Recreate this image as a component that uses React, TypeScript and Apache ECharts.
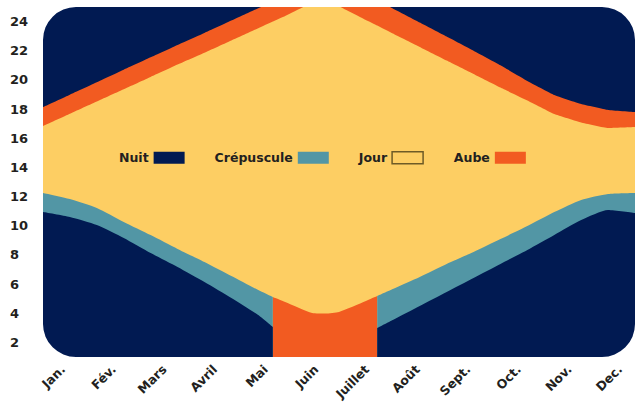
import { useEffect, useRef } from 'react';
import * as echarts from 'echarts';

// Month labels
const months = ['Jan.', 'Fév.', 'Mars', 'Avril', 'Mai', 'Juin', 'Juillet', 'Août', 'Sept.', 'Oct.', 'Nov.', 'Dec.'];

// Positions along the year (in months, Jan. = 0)
const positions = [0, 0.5, 1, 1.5, 2, 2.5, 3, 3.5, 4, 4.27, 4.5, 5, 5.25, 5.5, 6, 6.21, 6.5, 7, 7.5, 8, 8.5, 9, 9.5, 10, 10.5, 11];

// Upper edge of the lower night band
const nuitFin = [10.94, 10.6, 10.05, 9.16, 8.13, 7.17, 6.14, 5.05, 3.88, 3.06, null, null, null, null, null, 2.99, 3.54, 4.5, 5.46, 6.42, 7.38, 8.34, 9.37, 10.39, 11.08, 10.87];
// Upper edge of the twilight band
const crepusculeFin = [12.25, 11.83, 11.22, 10.26, 9.36, 8.41, 7.51, 6.55, 5.59, 5.11, null, null, null, null, null, 5.18, 5.66, 6.49, 7.38, 8.2, 9.09, 9.98, 10.94, 11.77, 12.18, 12.25];
// Upper edge of the lower dawn band (summer)
const aubeMatinFin = [null, null, null, null, null, null, null, null, null, 5.11, 4.77, 4.02, 3.98, 4.09, 4.84, 5.18, null, null, null, null, null, null, null, null, null, null];
// Upper edge of the day band
const jourFin = [16.84, 17.68, 18.52, 19.36, 20.2, 21.05, 21.86, 22.7, 23.54, 24.0, 24.38, 25.3, 25.6, 25.05, 24.11, 23.73, 23.18, 22.26, 21.33, 20.41, 19.48, 18.59, 17.66, 17.08, 16.7, 16.77];
// Upper edge of the upper dawn band
const aubeFin = [18.14, 18.99, 19.84, 20.7, 21.55, 22.4, 23.22, 24.07, 24.92, 25.35, 25.78, 26.6, 27.0, 26.82, 25.86, 25.5, 24.89, 23.93, 22.97, 22.0, 21.0, 19.93, 18.97, 18.35, 17.94, 17.8];

const NAVY = '#011A52';
const TEAL = '#5296A5';
const YELLOW = '#FDCE63';
const ORANGE = '#F25B21';
const TEXT = '#231F20';

const toPairs = (vals: (number | null)[]) => positions.map((p, i) => [p, vals[i] == null ? '-' : vals[i]]);

export default function App() {
  const ref = useRef<HTMLDivElement>(null);
  useEffect(() => {
    const Mask = echarts.graphic.extendPath('M-3 -3 L33 -3 L33 0 A33 33 0 0 0 0 33 L-3 33 Z', {});
    echarts.graphic.registerShape('cornerMask', Mask as any);

    const chart = echarts.init(ref.current!, null, { renderer: 'svg' });
    const common = {
      type: 'line',
      xAxisIndex: 0,
      yAxisIndex: 0,
      symbol: 'none',
      showSymbol: false,
      silent: true,
      lineStyle: { width: 0 },
    };
    const area = (c: string) => ({ areaStyle: { color: c, opacity: 1, origin: 'start' }, itemStyle: { color: c }, color: c });
    const labelFont = { fontFamily: 'DejaVu Sans', fontWeight: 'bold', color: TEXT };
    chart.setOption({
      animation: false,
      grid: [
        { left: 43, right: 0, top: 7, bottom: 52, show: true, backgroundColor: NAVY, borderWidth: 0, outerBoundsMode: 'none' },
        { left: 63, right: 15, top: 7, bottom: 52, outerBoundsMode: 'none' },
      ],
      legend: {
        left: 119,
        top: 151,
        padding: 0,
        icon: 'rect',
        itemWidth: 31,
        itemHeight: 12,
        itemGap: 30,
        align: 'right',
        selectedMode: false,
        textStyle: { ...labelFont, fontSize: 12.5 },
        data: [
          { name: 'Nuit' },
          { name: 'Crépuscule' },
          { name: 'Jour', itemStyle: { color: YELLOW, borderColor: '#6E5B26', borderWidth: 1.5 } },
          { name: 'Aube' },
        ],
      },
      xAxis: [
        { type: 'value', gridIndex: 0, min: 0, max: 11, show: false },
        {
          type: 'category',
          gridIndex: 1,
          data: months,
          boundaryGap: false,
          axisLine: { show: false },
          axisTick: { show: false },
          axisLabel: { ...labelFont, fontSize: 12.5, rotate: 45, margin: 10, interval: 0 },
        },
      ],
      yAxis: [
        {
          type: 'value',
          gridIndex: 0,
          min: 1,
          max: 25,
          interval: 1,
          axisLine: { show: false },
          axisTick: { show: false },
          splitLine: { show: false },
          axisLabel: {
            ...labelFont,
            fontSize: 13,
            align: 'left',
            margin: 33,
            formatter: (v: number) => (v % 2 === 0 ? String(v) : ''),
          },
        },
        { type: 'value', gridIndex: 1, show: false },
      ],
      series: [
        { ...common, smooth: 0.1, name: 'Aube', data: toPairs(aubeFin), ...area(ORANGE) },
        { ...common, smooth: 0.1, name: 'Jour', data: toPairs(jourFin), ...area(YELLOW) },
        { ...common, smooth: 0.2, name: 'Aube', data: toPairs(aubeMatinFin), ...area(ORANGE) },
        { ...common, smooth: 0.2, name: 'Crépuscule', data: toPairs(crepusculeFin), ...area(TEAL) },
        { ...common, smooth: 0.2, name: 'Nuit', data: toPairs(nuitFin), ...area(NAVY) },
      ],
      graphic: [
        { type: 'cornerMask', x: 43, y: 7, z: 100, style: { fill: '#fff' } },
        { type: 'cornerMask', x: 635, y: 7, scaleX: -1, z: 100, style: { fill: '#fff' } },
        { type: 'cornerMask', x: 43, y: 357, scaleY: -1, z: 100, style: { fill: '#fff' } },
        { type: 'cornerMask', x: 635, y: 357, scaleX: -1, scaleY: -1, z: 100, style: { fill: '#fff' } },
      ],
    } as any);
    return () => chart.dispose();
  }, []);
  return <div ref={ref} style={{ position: 'absolute', left: 0, top: 0, width: 635, height: 409 }} />;
}
